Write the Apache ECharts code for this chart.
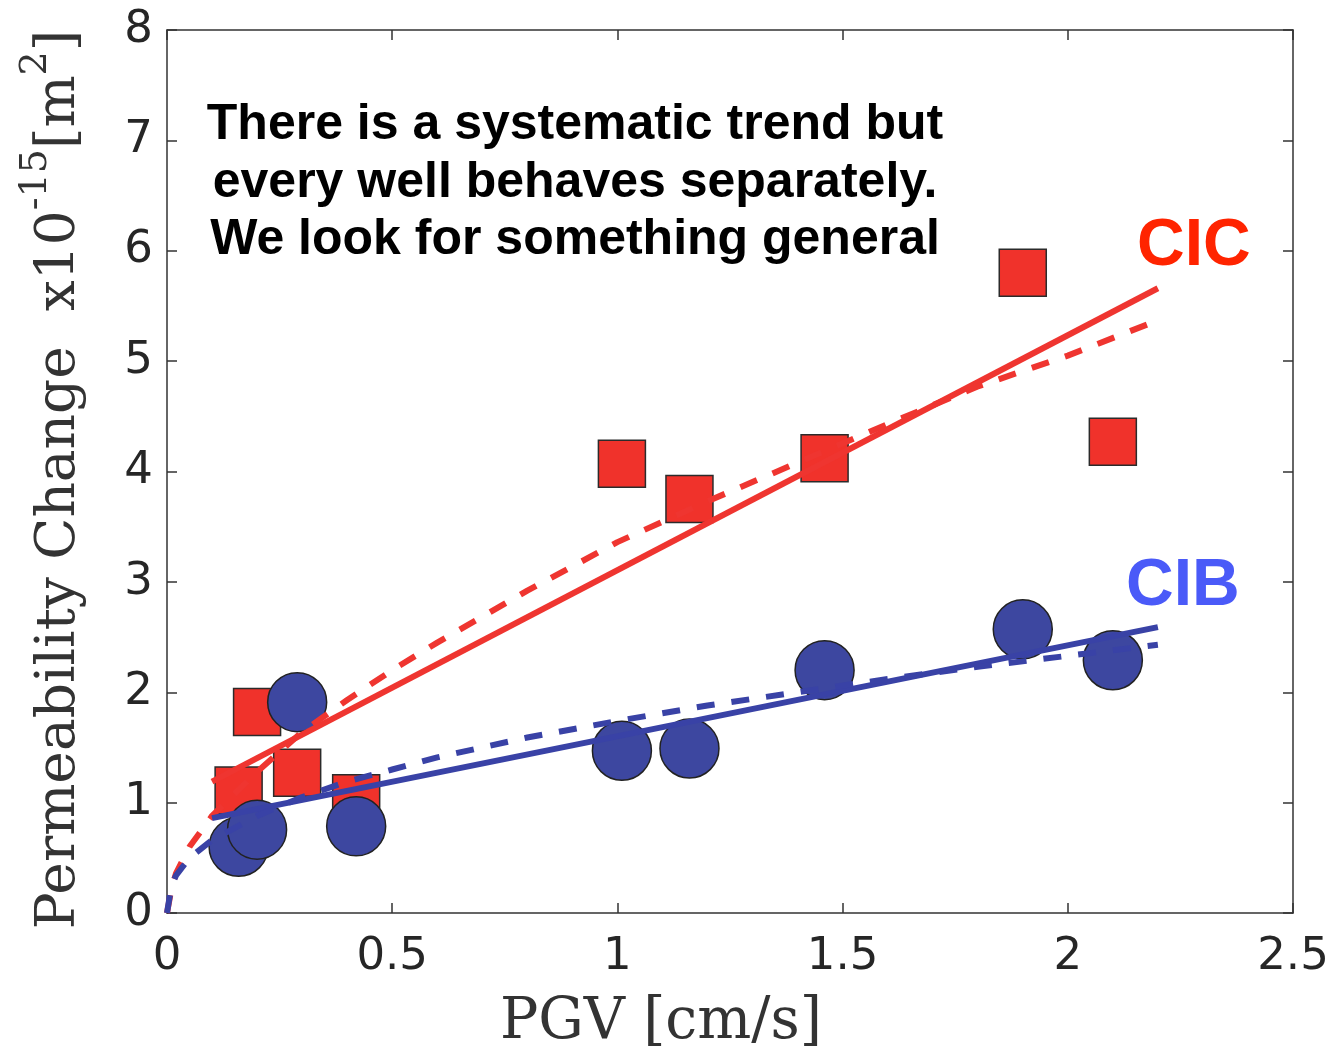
<!DOCTYPE html>
<html>
<head>
<meta charset="utf-8">
<script src="https://cdn.jsdelivr.net/npm/echarts@6/dist/echarts.min.js"></script>
<style>
  html, body { margin: 0; padding: 0; background: #ffffff; }
  #chart { width: 1340px; height: 1050px; }
</style>
</head>
<body>
<div id="chart"></div>
<script>
// PGV of each well event (cm/s), shared by both stations
const pgv = [0.159, 0.20, 0.289, 0.42, 1.01, 1.16, 1.46, 1.90, 2.10];
// Permeability change, x1e-15 m^2
const cicPerm = [1.11, 1.82, 1.27, 1.04, 4.07, 3.75, 4.12, 5.80, 4.27];
const cibPerm = [0.60, 0.755, 1.91, 0.785, 1.47, 1.49, 2.20, 2.57, 2.29];

// Linear trend end points
const cicLinX = [0.10, 2.20];
const cicLinY = [1.19, 5.66];
const cibLinX = [0.10, 2.20];
const cibLinY = [0.86, 2.59];

// Curved (power-type) trend, sampled
const curveX    = [0, 0.01, 0.02, 0.05, 0.1, 0.2, 0.3, 0.4, 0.5, 0.6, 0.8, 1.0, 1.2, 1.4, 1.6, 1.8, 2.0, 2.2];
const cicCurveY = [0, 0.22, 0.36, 0.60, 0.88, 1.28, 1.64, 1.93, 2.20, 2.45, 2.92, 3.36, 3.73, 4.08, 4.43, 4.77, 5.05, 5.37];
const cibCurveY = [0, 0.25, 0.34, 0.50, 0.66, 0.88, 1.05, 1.19, 1.30, 1.41, 1.59, 1.74, 1.88, 2.00, 2.12, 2.23, 2.33, 2.43];

const xTicks = [0, 0.5, 1, 1.5, 2, 2.5];
const yTicks = [0, 1, 2, 3, 4, 5, 6, 7, 8];

const zip = (xs, ys) => xs.map((x, i) => [x, ys[i]]);

const RED = '#F0322B';
const BLUE = '#3D47A0';
const RED_LINE = '#EF3530';
const BLUE_LINE = '#3942A6';
const AXIS = '#333333';
const TICK_TEXT = '#262626';
const SERIF = "'DejaVu Serif', serif";
const TICK_FONT = "'DejaVu Sans', sans-serif";
const SANS = "'Liberation Sans', Arial, sans-serif";

const chart = echarts.init(document.getElementById('chart'), null, { renderer: 'canvas' });

const tickCommon = { show: true, inside: true, length: 10, lineStyle: { color: AXIS, width: 1.5 } };
const lineCommon = { show: true, onZero: false, lineStyle: { color: AXIS, width: 1.5 } };

const option = {
  backgroundColor: '#ffffff',
  animation: false,
  grid: { left: 167, right: 47, top: 30, bottom: 137, containLabel: false, outerBoundsMode: 'none' },
  xAxis: [
    {
      type: 'value', min: xTicks[0], max: xTicks[xTicks.length - 1], interval: 0.5,
      position: 'bottom',
      axisLine: lineCommon, axisTick: tickCommon, splitLine: { show: false },
      axisLabel: { color: TICK_TEXT, fontFamily: TICK_FONT, fontSize: 45, margin: 22 },
      name: 'PGV [cm/s]', nameLocation: 'middle', nameGap: 82,
      nameTextStyle: { color: AXIS, fontFamily: SERIF, fontSize: 57, padding: [0, 138, 0, 0] }
    },
    {
      type: 'value', min: xTicks[0], max: xTicks[xTicks.length - 1], interval: 0.5,
      position: 'top',
      axisLine: lineCommon, axisTick: tickCommon, axisLabel: { show: false }, splitLine: { show: false }
    }
  ],
  yAxis: [
    {
      type: 'value', min: yTicks[0], max: yTicks[yTicks.length - 1], interval: 1,
      position: 'left',
      axisLine: lineCommon, axisTick: tickCommon, splitLine: { show: false },
      axisLabel: { color: TICK_TEXT, fontFamily: TICK_FONT, fontSize: 45, margin: 14 },
      name: '{m|Permeability Change  x10}{s|-15}{m|[m}{s|2}{m|]}',
      nameLocation: 'middle', nameGap: 80, nameRotate: 90,
      nameTextStyle: {
        color: AXIS, fontFamily: SERIF, fontSize: 55, padding: [0, 16, 0, 0],
        rich: {
          m: { fontFamily: SERIF, fontSize: 55, color: AXIS, lineHeight: 70, verticalAlign: 'bottom' },
          s: { fontFamily: SERIF, fontSize: 38, color: AXIS, lineHeight: 70, verticalAlign: 'top' }
        }
      }
    },
    {
      type: 'value', min: yTicks[0], max: yTicks[yTicks.length - 1], interval: 1,
      position: 'right',
      axisLine: lineCommon, axisTick: tickCommon, axisLabel: { show: false }, splitLine: { show: false }
    }
  ],
  graphic: [
    { type: 'text', x: 575, y: 125, style: { text: 'There is a systematic trend but', font: 'bold 50px ' + SANS, fill: '#000', align: 'center', verticalAlign: 'middle' } },
    { type: 'text', x: 575, y: 183, style: { text: 'every well behaves separately.', font: 'bold 50px ' + SANS, fill: '#000', align: 'center', verticalAlign: 'middle' } },
    { type: 'text', x: 575, y: 240, style: { text: 'We look for something general', font: 'bold 50px ' + SANS, fill: '#000', align: 'center', verticalAlign: 'middle' } },
    { type: 'text', x: 1137, y: 247, style: { text: 'CIC', font: 'bold 66px ' + SANS, fill: '#FF2400', align: 'left', verticalAlign: 'middle' } },
    { type: 'text', x: 1126, y: 587, style: { text: 'CIB', font: 'bold 66px ' + SANS, fill: '#4A5AF8', align: 'left', verticalAlign: 'middle' } }
  ],
  series: [
    {
      name: 'CIC', type: 'scatter', data: zip(pgv, cicPerm),
      symbol: 'rect', symbolSize: 47,
      itemStyle: { color: RED, borderColor: '#2b2b2b', borderWidth: 1.5, opacity: 1 },
      z: 2
    },
    {
      name: 'CIB', type: 'scatter', data: zip(pgv, cibPerm),
      symbol: 'circle', symbolSize: 59,
      itemStyle: { color: BLUE, borderColor: '#222222', borderWidth: 1.5, opacity: 1 },
      z: 3
    },
    {
      name: 'CIC linear', type: 'line', data: zip(cicLinX, cicLinY), showSymbol: false,
      lineStyle: { color: RED_LINE, width: 6 }, z: 4
    },
    {
      name: 'CIC curve', type: 'line', data: zip(curveX, cicCurveY), showSymbol: false,
      lineStyle: { color: RED_LINE, width: 6, type: [18, 17] }, z: 4
    },
    {
      name: 'CIB linear', type: 'line', data: zip(cibLinX, cibLinY), showSymbol: false,
      lineStyle: { color: BLUE_LINE, width: 6 }, z: 5
    },
    {
      name: 'CIB curve', type: 'line', data: zip(curveX, cibCurveY), showSymbol: false,
      lineStyle: { color: BLUE_LINE, width: 6, type: [18, 17] }, z: 5
    }
  ]
};

chart.setOption(option);
</script>
</body>
</html>
